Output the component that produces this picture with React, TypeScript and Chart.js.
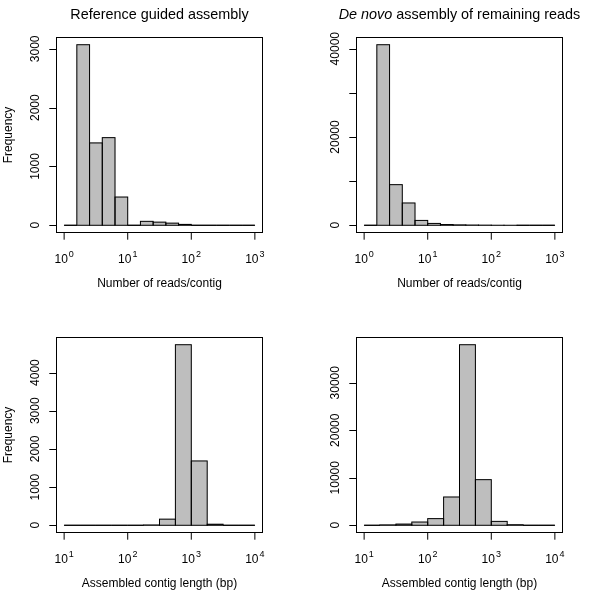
import React, { useEffect, useRef } from "react";
import { Chart, registerables } from "chart.js";

Chart.register(...registerables);

// log10(reads per contig) bin centres (bins 0.2 decade wide)
const readsBinCenters = [0.1, 0.3, 0.5, 0.7, 0.9, 1.1, 1.3, 1.5, 1.7, 1.9, 2.1, 2.3, 2.5, 2.7, 2.9];
const refReadsCounts = [0, 3070, 1400, 1490, 480, 0, 67, 53, 36, 15, 0, 0, 0, 0, 0];
const denovoReadsCounts = [0, 40900, 9200, 5050, 1100, 420, 170, 90, 50, 25, 10, 5, 0, 0, 0];

// log10(contig length) bin centres (bins 0.25 decade wide)
const lengthBinCenters = [1.125, 1.375, 1.625, 1.875, 2.125, 2.375, 2.625, 2.875, 3.125, 3.375, 3.625, 3.875];
const refLengthCounts = [0, 0, 0, 0, 0, 8, 160, 4730, 1685, 28, 0, 0];
const denovoLengthCounts = [0, 80, 250, 680, 1400, 5950, 38000, 9600, 820, 120, 0, 0];

// axis ticks
const readsDecades = [0, 1, 2, 3];
const lengthDecades = [1, 2, 3, 4];
const refReadsYTicks = [0, 1000, 2000, 3000];
const refReadsYLabels = [0, 1000, 2000, 3000];
const denovoReadsYTicks = [0, 10000, 20000, 30000, 40000];
const denovoReadsYLabels = [0, 20000, 40000];
const refLengthYTicks = [0, 1000, 2000, 3000, 4000];
const refLengthYLabels = [0, 1000, 2000, 3000, 4000];
const denovoLengthYTicks = [0, 10000, 20000, 30000];
const denovoLengthYLabels = [0, 10000, 20000, 30000];

const FONT = '"Liberation Sans", Arial, Helvetica, sans-serif';

type TitlePart = { text: string; italic: boolean };
type PanelCfg = {
  left: number;
  top: number;
  centers: number[];
  counts: number[];
  xTicks: number[];
  yTicks: number[];
  yLabels: number[];
  title: TitlePart[];
  xLabel: string;
  yLabel: string;
};

const panels: PanelCfg[] = [
  {
    left: 0, top: 0, centers: readsBinCenters, counts: refReadsCounts, xTicks: readsDecades,
    yTicks: refReadsYTicks, yLabels: refReadsYLabels,
    title: [{ text: "Reference guided assembly", italic: false }],
    xLabel: "Number of reads/contig", yLabel: "Frequency",
  },
  {
    left: 300, top: 0, centers: readsBinCenters, counts: denovoReadsCounts, xTicks: readsDecades,
    yTicks: denovoReadsYTicks, yLabels: denovoReadsYLabels,
    title: [{ text: "De novo", italic: true }, { text: " assembly of remaining reads", italic: false }],
    xLabel: "Number of reads/contig", yLabel: "",
  },
  {
    left: 0, top: 300, centers: lengthBinCenters, counts: refLengthCounts, xTicks: lengthDecades,
    yTicks: refLengthYTicks, yLabels: refLengthYLabels,
    title: [], xLabel: "Assembled contig length (bp)", yLabel: "Frequency",
  },
  {
    left: 300, top: 300, centers: lengthBinCenters, counts: denovoLengthCounts, xTicks: lengthDecades,
    yTicks: denovoLengthYTicks, yLabels: denovoLengthYLabels,
    title: [], xLabel: "Assembled contig length (bp)", yLabel: "",
  },
];

function Panel({ cfg }: { cfg: PanelCfg }) {
  const ref = useRef<HTMLCanvasElement | null>(null);

  useEffect(() => {
    const canvas = ref.current;
    if (!canvas) return;
    const maxCount = Math.max(...cfg.counts);
    const x0 = cfg.xTicks[0];
    const x1 = cfg.xTicks[cfg.xTicks.length - 1];
    const xPad = 0.04 * (x1 - x0);

    const outlinePlugin = {
      id: "outline",
      afterDatasetsDraw(chart: any) {
        const ctx = chart.ctx;
        const meta = chart.getDatasetMeta(0);
        ctx.save();
        ctx.strokeStyle = "#000";
        ctx.lineWidth = 1;
        meta.data.forEach((el: any) => {
          const { x, y, base, width } = el.getProps(["x", "y", "base", "width"], true);
          ctx.strokeRect(x - width / 2, Math.min(y, base), width, Math.abs(base - y));
        });
        ctx.restore();
      },
    };

    const axesPlugin = {
      id: "rAxes",
      afterDraw(chart: any) {
        const ctx = chart.ctx;
        const area = chart.chartArea;
        const xs = chart.scales.x;
        const ys = chart.scales.y;
        const tick = 7.2;
        ctx.save();
        ctx.strokeStyle = "#000";
        ctx.fillStyle = "#000";
        ctx.lineWidth = 1;
        // box
        ctx.strokeRect(area.left, area.top, area.right - area.left, area.bottom - area.top);
        // x ticks
        ctx.beginPath();
        cfg.xTicks.forEach((v) => {
          const px = xs.getPixelForValue(v);
          ctx.moveTo(px, area.bottom);
          ctx.lineTo(px, area.bottom + tick);
        });
        // y ticks
        cfg.yTicks.forEach((v) => {
          const py = Math.round(ys.getPixelForValue(v)) + 0.5;
          ctx.moveTo(area.left, py);
          ctx.lineTo(area.left - tick, py);
        });
        ctx.stroke();

        // x tick labels 10^n
        ctx.textBaseline = "alphabetic";
        ctx.textAlign = "left";
        cfg.xTicks.forEach((v) => {
          const px = xs.getPixelForValue(v);
          ctx.font = `12px ${FONT}`;
          const wBase = ctx.measureText("10").width;
          ctx.font = `9px ${FONT}`;
          const sup = String(v);
          const wSup = ctx.measureText(sup).width;
          const start = px - (wBase + wSup + 1) / 2;
          ctx.font = `12px ${FONT}`;
          ctx.fillText("10", start, area.bottom + 30);
          ctx.font = `9px ${FONT}`;
          ctx.fillText(sup, start + wBase + 1, area.bottom + 24);
        });

        // y tick labels (rotated)
        ctx.font = `12px ${FONT}`;
        ctx.textAlign = "center";
        cfg.yLabels.forEach((v) => {
          const py = ys.getPixelForValue(v);
          ctx.save();
          ctx.translate(area.left - 17.5, py);
          ctx.rotate(-Math.PI / 2);
          ctx.fillText(String(v), 0, 0);
          ctx.restore();
        });

        // y axis title
        if (cfg.yLabel) {
          ctx.save();
          ctx.translate(11.5, (area.top + area.bottom) / 2);
          ctx.rotate(-Math.PI / 2);
          ctx.textAlign = "center";
          ctx.fillText(cfg.yLabel, 0, 0);
          ctx.restore();
        }

        // x axis title
        ctx.textAlign = "center";
        ctx.font = `12px ${FONT}`;
        ctx.fillText(cfg.xLabel, (area.left + area.right) / 2, area.bottom + 54.5);

        // main title (mixed styles)
        if (cfg.title.length) {
          ctx.textAlign = "left";
          const fontFor = (p: TitlePart) => `${p.italic ? "italic " : ""}14.4px ${FONT}`;
          let total = 0;
          cfg.title.forEach((p) => {
            ctx.font = fontFor(p);
            total += ctx.measureText(p.text).width;
          });
          let cx = (area.left + area.right) / 2 - total / 2;
          cfg.title.forEach((p) => {
            ctx.font = fontFor(p);
            ctx.fillText(p.text, cx, 19);
            cx += ctx.measureText(p.text).width;
          });
        }
        ctx.restore();
      },
    };

    const chart = new Chart(canvas, {
      type: "bar",
      data: {
        datasets: [
          {
            data: cfg.centers.map((c, i) => ({ x: c, y: cfg.counts[i] })),
            backgroundColor: "#BEBEBE",
            borderWidth: 0,
            barPercentage: 1,
            categoryPercentage: 1,
          },
        ],
      },
      options: {
        responsive: false,
        animation: false,
        devicePixelRatio: 1,
        layout: { padding: { left: 56.5, right: 37.5, top: 37.5, bottom: 67.5 } },
        scales: {
          x: {
            type: "linear",
            min: x0 - xPad,
            max: x1 + xPad,
            offset: false,
            display: false,
            grid: { offset: false },
          },
          y: {
            type: "linear",
            min: -0.04 * maxCount,
            max: 1.04 * maxCount,
            display: false,
          },
        },
        plugins: {
          legend: { display: false },
          tooltip: { enabled: false },
          title: { display: false },
        },
      },
      plugins: [outlinePlugin, axesPlugin],
    } as any);
    return () => chart.destroy();
  }, [cfg]);

  return (
    <canvas
      ref={ref}
      width={300}
      height={300}
      style={{ position: "absolute", left: cfg.left, top: cfg.top, width: 300, height: 300 }}
    />
  );
}

export default function App() {
  return (
    <div style={{ position: "absolute", left: 0, top: 0, width: 600, height: 600, background: "#fff" }}>
      {panels.map((p, i) => (
        <Panel key={i} cfg={p} />
      ))}
    </div>
  );
}
